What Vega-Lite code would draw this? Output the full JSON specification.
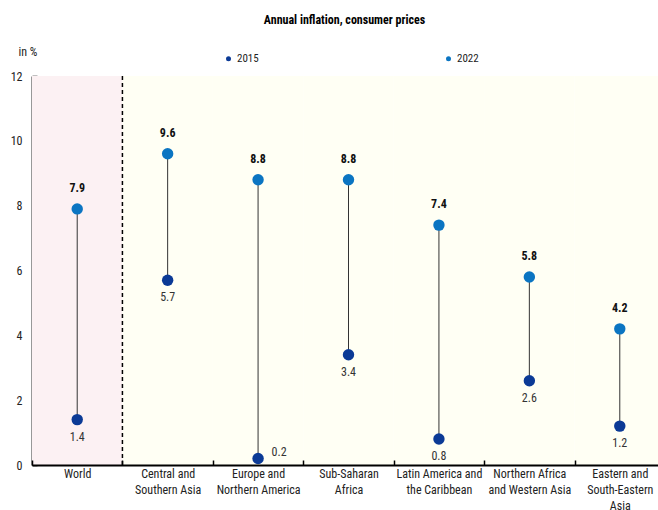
{
  "$schema": "https://vega.github.io/schema/vega-lite/v6.json",
  "width": 633,
  "height": 389,
  "padding": {"left": 32, "top": 76, "right": 0, "bottom": 45},
  "autosize": {"type": "none"},
  "config": {
    "font": "Liberation Sans Narrow, Roboto Condensed, Arial Narrow, Liberation Sans, sans-serif",
    "view": {"stroke": null}
  },
  "title": {
    "text": "Annual inflation, consumer prices",
    "fontSize": 12,
    "fontWeight": "bold",
    "color": "#000000",
    "anchor": "middle",
    "offset": 18,
    "dx": -4
  },
  "resolve": {"scale": {"color": "independent"}},
  "datasets": {
    "regions": [
      {"region": "World", "v2015": 1.4, "v2022": 7.9, "bg": "pink"},
      {"region": "Central and|Southern Asia", "v2015": 5.7, "v2022": 9.6, "bg": "yellow"},
      {"region": "Europe and|Northern America", "v2015": 0.2, "v2022": 8.8, "bg": "yellow"},
      {"region": "Sub-Saharan|Africa", "v2015": 3.4, "v2022": 8.8, "bg": "yellow"},
      {"region": "Latin America and|the Caribbean", "v2015": 0.8, "v2022": 7.4, "bg": "yellow"},
      {"region": "Northern Africa|and Western Asia", "v2015": 2.6, "v2022": 5.8, "bg": "yellow"},
      {"region": "Eastern and|South-Eastern|Asia", "v2015": 1.2, "v2022": 4.2, "bg": "yellow"}
    ],
    "points": [
      {"region": "World", "year": "2015", "value": 1.4},
      {"region": "World", "year": "2022", "value": 7.9},
      {"region": "Central and|Southern Asia", "year": "2015", "value": 5.7},
      {"region": "Central and|Southern Asia", "year": "2022", "value": 9.6},
      {"region": "Europe and|Northern America", "year": "2015", "value": 0.2},
      {"region": "Europe and|Northern America", "year": "2022", "value": 8.8},
      {"region": "Sub-Saharan|Africa", "year": "2015", "value": 3.4},
      {"region": "Sub-Saharan|Africa", "year": "2022", "value": 8.8},
      {"region": "Latin America and|the Caribbean", "year": "2015", "value": 0.8},
      {"region": "Latin America and|the Caribbean", "year": "2022", "value": 7.4},
      {"region": "Northern Africa|and Western Asia", "year": "2015", "value": 2.6},
      {"region": "Northern Africa|and Western Asia", "year": "2022", "value": 5.8},
      {"region": "Eastern and|South-Eastern|Asia", "year": "2015", "value": 1.2},
      {"region": "Eastern and|South-Eastern|Asia", "year": "2022", "value": 4.2}
    ]
  },
  "encoding": {
    "x": {
      "field": "region",
      "type": "nominal",
      "sort": null,
      "scale": {"paddingInner": 0, "paddingOuter": 0},
      "axis": {
        "title": null,
        "labelAngle": 0,
        "labelExpr": "split(datum.label, '|')",
        "labelFontSize": 12,
        "labelColor": "#222222",
        "labelPadding": 8,
        "labelLineHeight": 16,
        "labelBaseline": "top",
        "tickBand": "extent",
        "tickSize": -5,
        "tickColor": "#000000",
        "tickWidth": 1.5,
        "domainColor": "#000000",
        "domainWidth": 1.8,
        "grid": false
      }
    }
  },
  "layer": [
    {
      "data": {"name": "regions"},
      "mark": {"type": "rect"},
      "encoding": {
        "fill": {
          "field": "bg",
          "type": "nominal",
          "scale": {"domain": ["pink", "yellow"], "range": ["#FCF1F3", "#FFFFF4"]},
          "legend": null
        }
      }
    },
    {
      "data": {"values": [{"region": "World"}]},
      "mark": {"type": "rule", "color": "#000000", "strokeDash": [4, 3], "strokeWidth": 1.5},
      "encoding": {
        "x": {"field": "region", "type": "nominal", "sort": null, "bandPosition": 1}
      }
    },
    {
      "data": {"name": "regions"},
      "mark": {"type": "rule", "color": "#333333", "strokeWidth": 1},
      "encoding": {
        "y": {
          "field": "v2015",
          "type": "quantitative",
          "scale": {"domain": [0, 12], "nice": false},
          "axis": {
            "title": "in %",
            "titleAngle": 0,
            "titleAlign": "left",
            "titleBaseline": "middle",
            "titleX": -14,
            "titleY": -25,
            "titleFontSize": 12,
            "titleFontWeight": "normal",
            "titleColor": "#222222",
            "values": [0, 2, 4, 6, 8, 10, 12],
            "labelFontSize": 12,
            "labelColor": "#222222",
            "labelPadding": 15,
            "tickSize": -5,
            "tickColor": "#000000",
            "tickWidth": 1.5,
            "domainColor": "#000000",
            "domainWidth": 1.8,
            "grid": false
          }
        },
        "y2": {"field": "v2022"}
      }
    },
    {
      "data": {"name": "points"},
      "mark": {"type": "circle", "size": 130, "opacity": 1},
      "encoding": {
        "y": {"field": "value", "type": "quantitative"},
        "color": {
          "field": "year",
          "type": "nominal",
          "scale": {"domain": ["2015", "2022"], "range": ["#0B3A96", "#0B75C2"]},
          "legend": {
            "title": null,
            "orient": "none",
            "legendX": 191,
            "legendY": -23,
            "direction": "horizontal",
            "columns": 2,
            "columnPadding": 184,
            "symbolType": "circle",
            "symbolSize": 25,
            "labelFontSize": 11,
            "labelColor": "#222222",
            "labelOffset": 3
          }
        }
      }
    },
    {
      "data": {"name": "points"},
      "transform": [{"filter": "datum.year == '2022'"}],
      "mark": {"type": "text", "fontWeight": "bold", "fontSize": 12, "dy": -21, "color": "#111111"},
      "encoding": {
        "y": {"field": "value", "type": "quantitative"},
        "text": {"field": "value", "type": "quantitative", "format": ".1f"}
      }
    },
    {
      "data": {"name": "points"},
      "transform": [{"filter": "datum.year == '2015' && datum.value > 0.5"}],
      "mark": {"type": "text", "fontSize": 12, "dy": 17, "color": "#333333"},
      "encoding": {
        "y": {"field": "value", "type": "quantitative"},
        "text": {"field": "value", "type": "quantitative", "format": ".1f"}
      }
    },
    {
      "data": {"name": "points"},
      "transform": [{"filter": "datum.year == '2015' && datum.value <= 0.5"}],
      "mark": {"type": "text", "fontSize": 12, "dx": 21, "dy": -7, "color": "#333333"},
      "encoding": {
        "y": {"field": "value", "type": "quantitative"},
        "text": {"field": "value", "type": "quantitative", "format": ".1f"}
      }
    }
  ]
}
